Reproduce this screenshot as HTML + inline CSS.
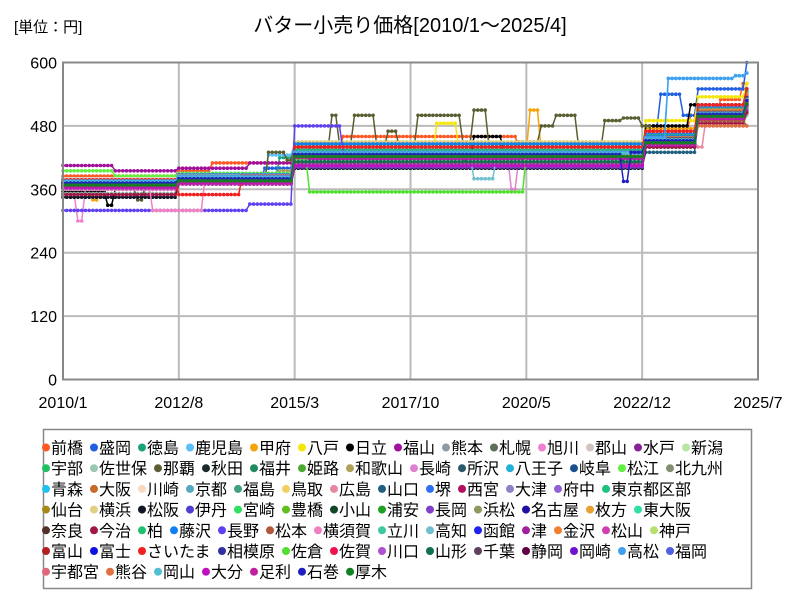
<!DOCTYPE html>
<html><head><meta charset="utf-8">
<style>
html,body{margin:0;padding:0;background:#fff;}
svg{display:block;font-family:"Liberation Sans","Noto Sans CJK JP",sans-serif;}
</style></head>
<body>
<svg id="chart" width="800" height="600" viewBox="0 0 800 600" xmlns="http://www.w3.org/2000/svg">
<rect x="0" y="0" width="800" height="600" fill="#fff"/>
<text x="14" y="32" font-size="15">[単位：円]</text>
<text x="410" y="32" font-size="20" text-anchor="middle">バター小売り価格[2010/1～2025/4]</text>
<g id="grid"></g>
<g id="series"></g>
<rect x="63" y="62.5" width="695" height="317" fill="none" stroke="#888" stroke-width="2"/>
<g id="axes"></g>
<rect x="43.5" y="429.5" width="708" height="159" fill="#fff" stroke="#888" stroke-width="1.5"/>
<g id="legend"></g>
</svg>
<script>
const seriesNames = ["前橋","盛岡","徳島","鹿児島","甲府","八戸","日立","福山","熊本","札幌","旭川","郡山","水戸","新潟",
"宇部","佐世保","那覇","秋田","福井","姫路","和歌山","長崎","所沢","八王子","岐阜","松江","北九州",
"青森","大阪","川崎","京都","福島","鳥取","広島","山口","堺","西宮","大津","府中","東京都区部",
"仙台","横浜","松阪","伊丹","宮崎","豊橋","小山","浦安","長岡","浜松","名古屋","枚方","東大阪",
"奈良","今治","柏","藤沢","長野","松本","横須賀","立川","高知","函館","津","金沢","松山","神戸",
"富山","富士","さいたま","相模原","佐倉","佐賀","川口","山形","千葉","静岡","岡崎","高松","福岡",
"宇都宮","熊谷","岡山","大分","足利","石巻","厚木"];
const seriesColors = ["#ff5722","#1f5fe0","#1aa37a","#5bc0f8","#f5a30a","#f5e60a","#000000","#a0109a","#8f9aa5","#5e7055","#f07fd0","#cfc4c0","#8a1f9a","#b8e6a0",
"#20c060","#98c8b0","#5a5e30","#1a2a28","#1f8a60","#4aaa30","#b0a058","#e080d0","#2a5a6a","#20b0d8","#1a5090","#60f040","#809070",
"#20c0f0","#c8682a","#f8d8c0","#58a8c0","#40a080","#f0d060","#e888a0","#206080","#3070f0","#b01060","#9080c8","#9060d8","#20c080",
"#a88818","#e0d080","#101828","#5040d0","#30e060","#60c020","#104828","#20a020","#8040c8","#909860","#2010a0","#e8a030","#30e0a0",
"#503028","#a01848","#20c070","#1080f0","#6040f0","#b05838","#f080c0","#40c8a0","#70c0d0","#2020f0","#a020a0","#f08030","#d040b0","#b8e070",
"#b02020","#1010e0","#f02020","#3030a0","#50e030","#f01050","#b050d0","#107050","#604060","#600040","#7010d0","#40a0f0","#5060e0",
"#e06878","#e07040","#50c0d0","#c010c0","#c020a0","#2020c0","#108020"];
// change points "monthIndex:value" (month 0 = 2010/1, 183 = 2025/4); value holds until next point
const seriesSteps = [
"0:385 31:395 40:410 62:440 75:460 122:440 156:470 168:500 176:530 182:560",
"0:370 30:380 54:400 62:430 156:480 160:540 166:500 170:550 183:600",
"0:375 31:385 58:420 62:435 120:430 156:460 170:510 183:540",
"0:372 28:380 55:425 62:445 100:440 130:445 156:470 162:570 180:575 183:580",
"0:360 8:340 10:365 31:380 62:425 90:430 125:510 128:430 156:475 170:520 183:560",
"0:365 31:375 62:420 100:485 106:430 156:490 170:535 183:560",
"0:355 12:330 14:360 31:370 62:410 80:420 110:460 118:430 156:480 168:520 183:550",
"0:405 14:395 31:400 50:410 62:420 130:415 156:450 170:500 183:520",
"0:365 31:375 62:445 120:410 156:460 170:505 183:530",
"0:370 31:380 62:420 156:450 170:500 183:520",
"0:350 4:300 6:360 31:370 62:425 156:455 170:495 183:515",
"0:372 31:380 62:405 156:445 170:500 183:525",
"0:380 31:385 62:410 156:440 170:485 183:510",
"0:375 31:380 62:425 156:450 170:510 183:530",
"0:368 31:372 62:400 156:440 170:490 183:505",
"0:352 31:370 62:415 156:445 170:480 183:500",
"0:360 20:340 22:365 31:375 55:430 60:415 62:440 72:500 74:445 78:500 84:440 87:470 90:440 95:500 105:500 107:450 110:510 114:440 122:450 128:480 132:500 138:440 145:490 150:495 155:480 158:440 165:460 170:490 183:510",
"0:365 31:370 62:425 156:450 170:505 183:530",
"0:378 31:385 62:430 156:470 170:515 183:545",
"0:370 31:378 62:445 156:450 170:495 183:520",
"0:368 31:380 58:395 62:428 120:425 156:455 170:500 183:520",
"0:360 31:372 62:418 120:360 122:420 156:450 170:490 183:510",
"0:370 31:375 62:420 100:400 108:425 156:440 170:490 183:510",
"0:380 31:390 62:430 156:465 170:520 183:550",
"0:375 31:385 62:435 156:460 170:515 183:545",
"0:395 14:385 31:390 62:420 156:445 170:495 183:520",
"0:365 31:375 62:410 156:455 170:500 183:525",
"0:370 31:380 62:430 156:460 170:520 183:550",
"0:375 31:385 62:448 156:455 170:500 183:525",
"0:380 31:385 62:425 156:450 170:505 183:530",
"0:372 31:380 62:430 156:455 170:500 183:525",
"0:370 31:378 62:432 156:460 170:510 183:540",
"0:375 31:385 62:430 156:470 170:505 183:530",
"0:365 31:378 62:425 156:450 170:440 172:490 183:515",
"0:365 31:372 62:405 156:430 170:490 183:510",
"0:378 31:388 62:432 156:465 170:515 183:540",
"0:372 31:380 62:425 156:455 170:505 183:530",
"0:368 31:375 62:422 156:450 170:495 183:520",
"0:374 31:382 62:428 156:460 170:510 183:535",
"0:376 31:386 62:434 156:462 170:512 183:545",
"0:365 31:375 62:420 156:445 170:495 183:520",
"0:378 31:386 62:450 156:458 170:505 183:535",
"0:345 31:370 62:400 156:440 170:495 183:515",
"0:370 31:378 62:424 156:452 170:500 183:525",
"0:362 31:372 62:408 156:445 170:495 183:515",
"0:368 31:376 62:424 156:450 170:498 183:520",
"0:366 31:374 62:422 156:448 170:496 183:520",
"0:372 31:380 62:428 156:455 170:505 183:530",
"0:362 31:370 62:402 156:445 170:490 183:510",
"0:370 31:378 62:425 156:452 170:500 183:525",
"0:368 31:376 62:422 150:410 156:460 170:505 183:530",
"0:374 31:382 62:428 156:456 170:505 183:530",
"0:372 31:380 62:426 156:454 170:502 183:528",
"0:368 31:376 62:420 156:448 170:498 183:522",
"0:350 31:370 62:405 156:440 170:485 183:505",
"0:370 31:378 62:425 156:452 170:500 183:525",
"0:376 31:385 62:446 156:460 170:510 183:540",
"0:320 50:332 62:480 75:430 156:455 170:505 183:530",
"0:365 31:375 62:420 156:445 170:490 183:480",
"0:370 24:320 38:380 62:425 156:450 170:500 183:525",
"0:372 31:380 62:428 156:455 170:505 183:530",
"0:365 31:375 62:420 110:380 116:420 156:445 170:495 183:520",
"0:370 31:378 62:425 156:450 170:505 183:535",
"0:364 31:372 62:418 156:446 170:494 183:518",
"0:376 31:384 62:430 156:458 170:510 183:540",
"0:362 31:370 62:410 156:445 170:495 183:520",
"0:374 31:382 62:428 156:455 170:505 183:530",
"0:372 31:380 62:426 156:452 170:500 183:525",
"0:370 31:378 62:424 156:450 170:500 183:525",
"0:378 31:350 48:385 62:440 156:470 170:520 183:550",
"0:368 31:376 62:422 156:448 170:498 183:522",
"0:366 31:374 62:418 66:355 124:425 156:450 170:500 183:525",
"0:372 31:380 62:424 156:450 170:500 183:525",
"0:370 31:378 62:426 156:452 170:502 183:528",
"0:364 31:372 62:412 156:446 170:496 183:520",
"0:374 31:382 62:428 156:456 170:506 183:534",
"0:368 31:376 62:422 156:448 170:498 183:522",
"0:366 31:374 62:420 156:446 170:496 183:520",
"0:376 31:384 62:430 156:458 162:570 180:575 183:580",
"0:372 31:380 62:426 156:452 170:502 183:528",
"0:368 31:376 62:422 156:448 170:498 183:522",
"0:370 31:378 62:424 156:450 170:480 183:480",
"0:374 31:382 62:428 156:454 170:504 183:530",
"0:364 31:372 62:405 156:444 170:494 183:518",
"0:366 31:374 62:420 156:446 170:496 183:520",
"0:372 31:380 62:426 150:375 152:430 156:452 170:502 183:528",
"0:368 31:376 62:422 156:448 170:498 183:522"
];
const yTicks = [0,120,240,360,480,600];
const xTickLabels = ["2010/1","2012/8","2015/3","2017/10","2020/5","2022/12","2025/7"];
const xTickMonths = [0,31,62,93,124,155,186];
const monthCount = 184;
const legendRowBreaks = [14,27,40,53,67,80,87];

const NS = "http://www.w3.org/2000/svg";
const X0 = 63, XW = 695, Y0 = 379.5, YH = 317, MAXM = 186, MAXV = 600;
function xs(m){ return X0 + m * XW / MAXM; }
function ys(v){ return Y0 - v * YH / MAXV; }
function mk(tag, attrs, parent){ const e = document.createElementNS(NS, tag); for (const k in attrs) e.setAttribute(k, attrs[k]); parent.appendChild(e); return e; }

const grid = document.getElementById('grid'), axes = document.getElementById('axes');
yTicks.forEach(v => {
  const l = mk('line', {x1:X0, x2:X0+XW, y1:ys(v), y2:ys(v), stroke:'#bbb', 'stroke-width':2}, grid);
  
  
  const t = mk('text', {x:X0-6, y:ys(v)+6, 'font-size':16, 'text-anchor':'end'}, axes);
  t.textContent = String(v);
  
  
});
xTickMonths.forEach((m, i) => {
  const l = mk('line', {x1:xs(m), x2:xs(m), y1:Y0-YH, y2:Y0, stroke:'#bbb', 'stroke-width':2}, grid);
  
  
  const t = mk('text', {x:xs(m), y:408, 'font-size':16, 'text-anchor':'middle'}, axes);
  t.textContent = xTickLabels[i];
  
  
});

function expand(str){
  const pts = str.split(' ').map(s => s.split(':').map(Number));
  const out = []; let j = 0, cur = pts[0][1];
  for (let m = 0; m < monthCount; m++) {
    while (j < pts.length && pts[j][0] <= m) { cur = pts[j][1]; j++; }
    out.push(cur);
  }
  return out;
}
const sg = document.getElementById('series');
seriesSteps.forEach((s, i) => {
  const vals = expand(s);
  const g = mk('g', {}, sg);
  
  
  const d = vals.map((v, m) => xs(m).toFixed(1) + ',' + ys(v).toFixed(1)).join(' ');
  const pl = mk('polyline', {points:d, fill:'none', stroke:seriesColors[i], 'stroke-width':1.5}, g);
  
  
  let path = '';
  vals.forEach((v, m) => { const x = xs(m), y = ys(v); path += 'M' + (x-1.8).toFixed(1) + ',' + y.toFixed(1) + 'a1.8,1.8 0 1,0 3.6,0a1.8,1.8 0 1,0 -3.6,0'; });
  const dots = mk('path', {d:path, fill:seriesColors[i]}, g);
  
  
});

const lg = document.getElementById('legend');
let idx = 0;
legendRowBreaks.forEach((end, r) => {
  let x = 46; const y = 447.5 + r * 20.7;
  for (; idx < end; idx++) {
    const name = seriesNames[idx];
    const g = mk('g', {}, lg);
    
    
    mk('circle', {cx:x, cy:y, r:4, fill:seriesColors[idx]}, g);
    const t = mk('text', {x:x+5, y:y+6, 'font-size':16}, g);
    t.textContent = name;
    x += 16 + 16 * name.length;
  }
});
</script>
</body></html>
